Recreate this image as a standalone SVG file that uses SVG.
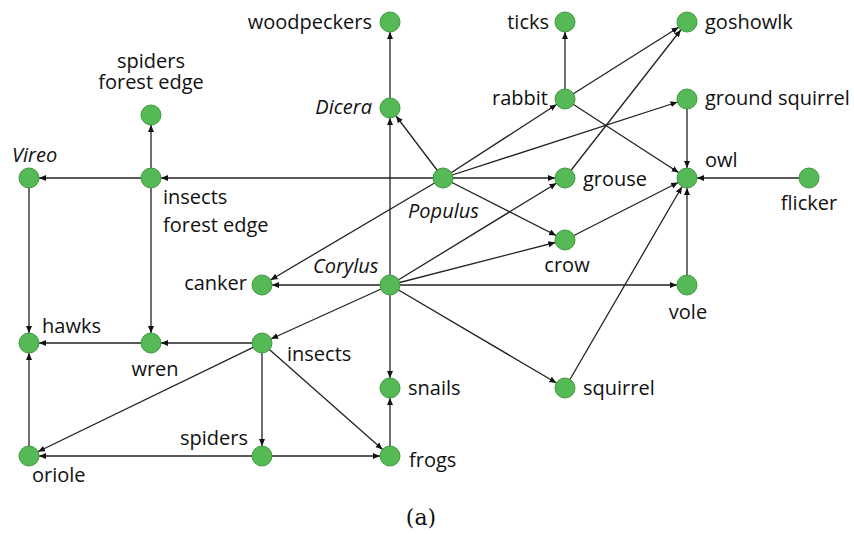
<svg xmlns="http://www.w3.org/2000/svg" width="854" height="534" viewBox="0 0 854 534">
<style>
.n{fill:#55b955;stroke:#3f9a3f;stroke-width:1}
.t{font-family:"Open Sans","Liberation Sans",sans-serif;font-size:20px;fill:#111}
.i{font-style:italic}
.e line{stroke:#222;stroke-width:1.3;marker-end:url(#a)}
.cap{font-family:"DejaVu Serif","Liberation Serif",serif;font-size:22px;fill:#111}
</style>
<defs>
<marker id="a" markerUnits="userSpaceOnUse" markerWidth="20" markerHeight="10" viewBox="0 -5 20 10" refX="17" refY="0" orient="auto">
<path d="M0,-3 L7,0 L0,3 Z" fill="#111"/>
</marker>
</defs>
<rect width="854" height="534" fill="#fff"/>
<g id="edges" class="e">
<line x1="390" y1="108" x2="390" y2="22"/>
<line x1="390" y1="285" x2="390" y2="108"/>
<line x1="443" y1="178" x2="390" y2="108"/>
<line x1="443" y1="178" x2="565" y2="99"/>
<line x1="443" y1="178" x2="687" y2="99"/>
<line x1="443" y1="178" x2="565" y2="178"/>
<line x1="443" y1="178" x2="565" y2="240"/>
<line x1="443" y1="178" x2="151" y2="178"/>
<line x1="443" y1="178" x2="262" y2="285"/>
<line x1="565" y1="99" x2="565" y2="22"/>
<line x1="565" y1="99" x2="687" y2="22"/>
<line x1="565" y1="99" x2="687" y2="178"/>
<line x1="565" y1="178" x2="687" y2="22"/>
<line x1="687" y1="99" x2="687" y2="178"/>
<line x1="809" y1="178" x2="687" y2="178"/>
<line x1="565" y1="240" x2="687" y2="178"/>
<line x1="565" y1="388" x2="687" y2="178"/>
<line x1="687" y1="285" x2="687" y2="178"/>
<line x1="390" y1="285" x2="565" y2="178"/>
<line x1="390" y1="285" x2="565" y2="240"/>
<line x1="390" y1="285" x2="687" y2="285"/>
<line x1="390" y1="285" x2="262" y2="285"/>
<line x1="390" y1="285" x2="262" y2="343"/>
<line x1="390" y1="285" x2="390" y2="388"/>
<line x1="390" y1="285" x2="565" y2="388"/>
<line x1="151" y1="178" x2="29" y2="178"/>
<line x1="151" y1="178" x2="151" y2="115"/>
<line x1="151" y1="178" x2="151" y2="343"/>
<line x1="29" y1="178" x2="29" y2="343"/>
<line x1="151" y1="343" x2="29" y2="343"/>
<line x1="262" y1="343" x2="151" y2="343"/>
<line x1="262" y1="343" x2="29" y2="456"/>
<line x1="262" y1="343" x2="262" y2="456"/>
<line x1="262" y1="343" x2="390" y2="456"/>
<line x1="262" y1="456" x2="390" y2="456"/>
<line x1="262" y1="456" x2="29" y2="456"/>
<line x1="29" y1="456" x2="29" y2="343"/>
<line x1="390" y1="456" x2="390" y2="388"/>
</g>
<g id="woodpeckers"><circle class="n" cx="390" cy="22" r="10"/><text class="t" x="372" y="29" text-anchor="end">woodpeckers</text></g>
<g id="ticks"><circle class="n" cx="565" cy="22" r="10"/><text class="t" x="549" y="29" text-anchor="end">ticks</text></g>
<g id="goshowlk"><circle class="n" cx="687" cy="22" r="10"/><text class="t" x="705" y="29">goshowlk</text></g>
<g id="spiders-forest-edge"><circle class="n" cx="151" cy="115" r="10"/><text class="t" x="151" y="68" text-anchor="middle">spiders</text><text class="t" x="151" y="89" text-anchor="middle">forest edge</text></g>
<g id="dicera"><circle class="n" cx="390" cy="108" r="10"/><text class="t i" x="372" y="114" text-anchor="end">Dicera</text></g>
<g id="rabbit"><circle class="n" cx="565" cy="99" r="10"/><text class="t" x="548" y="105" text-anchor="end">rabbit</text></g>
<g id="ground-squirrel"><circle class="n" cx="687" cy="99" r="10"/><text class="t" x="705" y="105">ground squirrel</text></g>
<g id="vireo"><circle class="n" cx="29" cy="178" r="10"/><text class="t i" x="12" y="162">Vireo</text></g>
<g id="insects-forest-edge"><circle class="n" cx="151" cy="178" r="10"/><text class="t" x="163" y="204">insects</text><text class="t" x="163" y="232">forest edge</text></g>
<g id="populus"><circle class="n" cx="443" cy="178" r="10"/><text class="t i" x="408" y="218">Populus</text></g>
<g id="grouse"><circle class="n" cx="565" cy="178" r="10"/><text class="t" x="583" y="186">grouse</text></g>
<g id="owl"><circle class="n" cx="687" cy="178" r="10"/><text class="t" x="705" y="167">owl</text></g>
<g id="flicker"><circle class="n" cx="809" cy="178" r="10"/><text class="t" x="809" y="210" text-anchor="middle">flicker</text></g>
<g id="crow"><circle class="n" cx="565" cy="240" r="10"/><text class="t" x="567" y="272" text-anchor="middle">crow</text></g>
<g id="canker"><circle class="n" cx="262" cy="285" r="10"/><text class="t" x="247" y="290" text-anchor="end">canker</text></g>
<g id="corylus"><circle class="n" cx="390" cy="285" r="10"/><text class="t i" x="313" y="273">Corylus</text></g>
<g id="vole"><circle class="n" cx="687" cy="285" r="10"/><text class="t" x="688" y="319" text-anchor="middle">vole</text></g>
<g id="hawks"><circle class="n" cx="29" cy="343" r="10"/><text class="t" x="42" y="333">hawks</text></g>
<g id="wren"><circle class="n" cx="151" cy="343" r="10"/><text class="t" x="155" y="376" text-anchor="middle">wren</text></g>
<g id="insects"><circle class="n" cx="262" cy="343" r="10"/><text class="t" x="287" y="361">insects</text></g>
<g id="snails"><circle class="n" cx="390" cy="388" r="10"/><text class="t" x="408" y="395">snails</text></g>
<g id="squirrel"><circle class="n" cx="565" cy="388" r="10"/><text class="t" x="583" y="395">squirrel</text></g>
<g id="oriole"><circle class="n" cx="29" cy="456" r="10"/><text class="t" x="32" y="482">oriole</text></g>
<g id="spiders"><circle class="n" cx="262" cy="456" r="10"/><text class="t" x="248" y="445" text-anchor="end">spiders</text></g>
<g id="frogs"><circle class="n" cx="390" cy="456" r="10"/><text class="t" x="409" y="467">frogs</text></g>
<text class="cap" x="421" y="525" text-anchor="middle">(a)</text>
</svg>
